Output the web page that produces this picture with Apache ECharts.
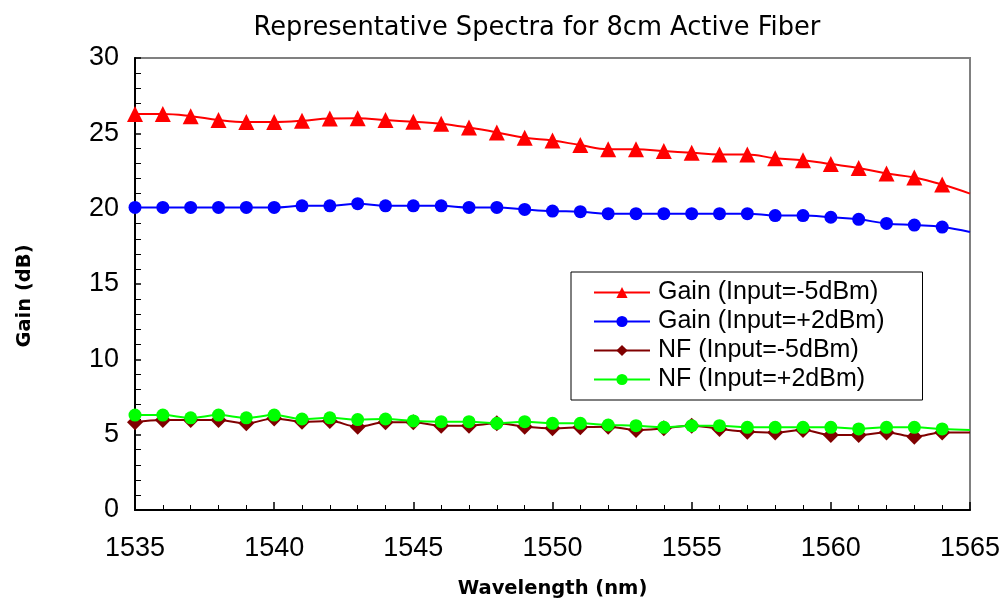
<!DOCTYPE html>
<html>
<head>
<meta charset="utf-8">
<script src="https://cdn.jsdelivr.net/npm/echarts@6/dist/echarts.min.js"></script>
<style>
html,body{margin:0;padding:0;background:#fff;}
#chart{width:1006px;height:606px;}
</style>
</head>
<body>
<div id="chart"></div>
<script>
var wavelengths = [1535,1536,1537,1538,1539,1540,1541,1542,1543,1544,1545,1546,1547,1548,1549,1550,1551,1552,1553,1554,1555,1556,1557,1558,1559,1560,1561,1562,1563,1564,1565];
var gainMinus5 = [26.28,26.28,26.14,25.88,25.75,25.75,25.83,25.99,26.0,25.88,25.77,25.64,25.38,25.06,24.7,24.52,24.22,23.95,23.95,23.82,23.71,23.6,23.6,23.34,23.22,22.96,22.7,22.34,22.07,21.6,21.0];
var gainPlus2 = [20.08,20.08,20.08,20.08,20.08,20.08,20.19,20.19,20.33,20.19,20.19,20.19,20.08,20.08,19.95,19.84,19.8,19.67,19.67,19.67,19.67,19.67,19.67,19.54,19.54,19.43,19.29,19.02,18.91,18.78,18.45];
var nfMinus5 = [5.82,5.97,5.97,5.97,5.75,6.08,5.86,5.9,5.53,5.82,5.82,5.6,5.6,5.75,5.53,5.42,5.49,5.53,5.31,5.42,5.6,5.38,5.2,5.15,5.31,4.98,4.98,5.15,4.87,5.15,5.15];
var nfPlus2 = [6.3,6.3,6.12,6.3,6.12,6.3,6.04,6.12,6.0,6.04,5.91,5.86,5.86,5.75,5.86,5.75,5.75,5.64,5.6,5.49,5.6,5.6,5.49,5.49,5.49,5.49,5.38,5.49,5.49,5.38,5.31];
var seriesNames = ['Gain (Input=-5dBm)','Gain (Input=+2dBm)','NF (Input=-5dBm)','NF (Input=+2dBm)'];
var xTicks = [1535,1540,1545,1550,1555,1560,1565];
var yTicks = [0,5,10,15,20,25,30];

function build(vals){
  return wavelengths.map(function(w,i){
    var d = {value:[w, vals[i]]};
    if (i === wavelengths.length - 1) d.symbol = 'none';
    return d;
  });
}

var chart = echarts.init(document.getElementById('chart'));
var sym = [
  {symbol:'triangle', size:16, color:'#FF0000'},
  {symbol:'circle', size:13, color:'#0000FF'},
  {symbol:'diamond', size:16, color:'#800000'},
  {symbol:'circle', size:13, color:'#00FF00'}
];
var dataSets = [gainMinus5, gainPlus2, nfMinus5, nfPlus2];
var series = dataSets.map(function(ds, k){
  return {
    name: seriesNames[k],
    type: 'line',
    smooth: 0.4,
    symbol: sym[k].symbol,
    symbolSize: sym[k].size,
    showAllSymbol: true,
    itemStyle: {color: sym[k].color},
    lineStyle: {color: sym[k].color, width: 2},
    data: build(ds),
    z: 2 + (k===3 ? 1 : 0)
  };
});

chart.setOption({
  animation: false,
  backgroundColor: '#fff',
  title: {
    text: 'Representative Spectra for 8cm Active Fiber',
    left: 532, top: 10, textAlign: 'center',
    textStyle: {fontFamily: 'DejaVu Sans', fontSize: 25.7, fontWeight: 'normal', color: '#000'}
  },
  legend: {
    orient: 'vertical',
    left: 571, top: 272,
    data: seriesNames,
    backgroundColor: '#fff',
    borderColor: '#000', borderWidth: 1,
    padding: [6, 38, 6, 22],
    itemWidth: 56, itemHeight: 14, itemGap: 0,
    textStyle: {fontFamily: 'Liberation Sans, Arial', fontSize: 25, color: '#000', lineHeight: 29, padding: [0,0,0,3]}
  },
  grid: {left: 135, right: 36, top: 58, bottom: 96, show: true, borderColor: '#808080', borderWidth: 2, backgroundColor: 'transparent'},
  xAxis: {
    type: 'value', min: xTicks[0], max: xTicks[xTicks.length-1], interval: 5,
    name: 'Wavelength (nm)', nameLocation: 'middle', nameGap: 69,
    nameTextStyle: {fontFamily: 'DejaVu Sans', fontSize: 19.5, fontWeight: 'bold', color: '#000'},
    axisLine: {show: true, lineStyle: {color: '#000', width: 2}},
    axisTick: {show: true, inside: true, length: 8, lineStyle: {color: '#000', width: 1.5}},
    minorTick: {show: true, splitNumber: 5, length: 5, lineStyle: {color: '#000', width: 1}},
    splitLine: {show: false},
    axisLabel: {fontFamily: 'Liberation Sans, Arial', fontSize: 27, color: '#000', margin: 25,
      formatter: function(v){ return String(v); }}
  },
  yAxis: {
    type: 'value', min: yTicks[0], max: yTicks[yTicks.length-1], interval: 5,
    name: 'Gain (dB)', nameLocation: 'middle', nameGap: 100, nameRotate: 90,
    nameTextStyle: {fontFamily: 'DejaVu Sans', fontSize: 19.5, fontWeight: 'bold', color: '#000', padding: [0, 24, 0, 0]},
    axisLine: {show: true, lineStyle: {color: '#000', width: 2}},
    axisTick: {show: true, inside: true, length: 6, lineStyle: {color: '#000', width: 1.5}},
    minorTick: {show: true, splitNumber: 5, length: 6, lineStyle: {color: '#000', width: 1}},
    splitLine: {show: false},
    axisLabel: {fontFamily: 'Liberation Sans, Arial', fontSize: 27, color: '#000', margin: 16,
      formatter: function(v){ return String(v); }}
  },
  series: series
});
</script>
</body>
</html>
